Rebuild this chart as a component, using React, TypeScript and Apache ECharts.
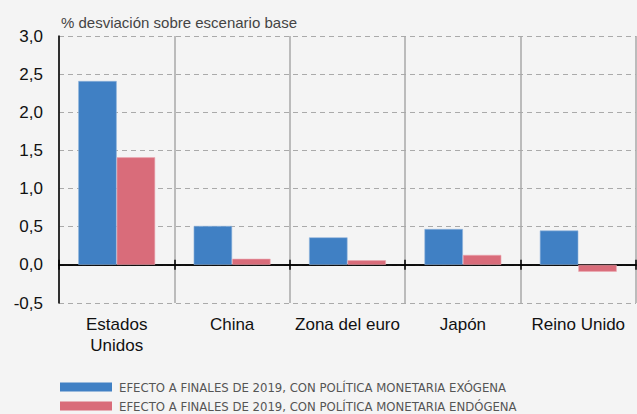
import React, { useEffect, useRef } from "react";
import * as echarts from "echarts";

const categories = ["Estados\nUnidos", "China", "Zona del euro", "Japón", "Reino Unido"];
const exogena = [2.41, 0.51, 0.36, 0.47, 0.45];
const endogena = [1.41, 0.08, 0.06, 0.13, -0.09];
const seriesNames = [
  "EFECTO A FINALES DE 2019, CON POLÍTICA MONETARIA EXÓGENA",
  "EFECTO A FINALES DE 2019, CON POLÍTICA MONETARIA ENDÓGENA",
];
const yTitle = "% desviación sobre escenario base";

const FONT = "'Liberation Sans', Arial, Helvetica, sans-serif";
const NARROW = "'Liberation Sans Narrow', 'DejaVu Sans Condensed', 'Liberation Sans', sans-serif";

export default function App() {
  const ref = useRef<HTMLDivElement>(null);
  useEffect(() => {
    if (!ref.current) return;
    const chart = echarts.init(ref.current, null, { renderer: "svg" });
    const gridRect = { left: 59, right: 1, top: 36, bottom: 111 };
    chart.setOption({
      animation: false,
      backgroundColor: "#f4f4f4",
      textStyle: { fontFamily: FONT },
      title: {
        text: yTitle,
        left: 56,
        top: 10,
        textStyle: { fontSize: 15, fontWeight: "normal", color: "#444", fontFamily: FONT },
      },
      legend: {
        orient: "vertical",
        left: 60,
        top: 379,
        height: 60,
        padding: 0,
        itemWidth: 52,
        itemHeight: 9,
        itemGap: 3,
        icon: "rect",
        itemStyle: { borderWidth: 0 },
        textStyle: {
          fontSize: 13,
          lineHeight: 16,
          color: "#555",
          fontFamily: NARROW,
          padding: [0, 0, 0, 2],
        },
        data: seriesNames,
      },
      grid: [
        { ...gridRect, containLabel: false },
        { ...gridRect, containLabel: false },
      ],
      xAxis: [
        {
          type: "category",
          gridIndex: 0,
          data: categories,
          position: "bottom",
          axisLine: { show: false, onZero: false },
          axisTick: { show: false },
          axisLabel: {
            fontSize: 17,
            color: "#111",
            lineHeight: 21,
            margin: 11,
            interval: 0,
            fontFamily: FONT,
          },
          splitLine: { show: true, interval: 0, lineStyle: { color: "#a8a8a8", width: 1.5, type: "solid" } },
        },
        {
          type: "category",
          gridIndex: 0,
          data: categories,
          position: "top",
          axisLine: { show: true, onZero: true, lineStyle: { color: "#000", width: 1.5 } },
          axisTick: { show: true, length: 5, interval: 0, lineStyle: { color: "#000", width: 1.5 } },
          axisLabel: { show: false },
          splitLine: { show: false },
        },
        {
          type: "category",
          gridIndex: 1,
          data: categories,
          position: "bottom",
          axisLine: { show: true, onZero: true, lineStyle: { color: "#000", width: 1.5 } },
          axisTick: { show: true, length: 5, interval: 0, lineStyle: { color: "#000", width: 1.5 } },
          axisLabel: { show: false },
          splitLine: { show: false },
        },
      ],
      yAxis: [
        {
          type: "value",
          gridIndex: 0,
          min: -0.5,
          max: 3,
          interval: 0.5,
          axisLine: { show: true, onZero: false, lineStyle: { color: "#000", width: 1.5 } },
          axisTick: { show: false },
          axisLabel: {
            fontSize: 17,
            color: "#111",
            margin: 16,
            fontFamily: FONT,
            formatter: (v: number) => v.toFixed(1).replace(".", ","),
          },
          splitLine: { show: true, lineStyle: { color: "#aaa", type: [5, 4], width: 1 } },
        },
        {
          type: "value",
          gridIndex: 1,
          min: -0.5,
          max: 3,
          interval: 0.5,
          show: false,
        },
      ],
      series: [
        {
          name: seriesNames[0],
          type: "bar",
          xAxisIndex: 0,
          yAxisIndex: 0,
          data: exogena,
          barWidth: "33.3%",
          barGap: "0%",
          itemStyle: { color: "#4080c4", borderColor: "#8fb4dc", borderWidth: 0.6 },
        },
        {
          name: seriesNames[1],
          type: "bar",
          xAxisIndex: 0,
          yAxisIndex: 0,
          data: endogena,
          barWidth: "33.3%",
          barGap: "0%",
          itemStyle: { color: "#d96c7a", borderColor: "#eca9b2", borderWidth: 0.6 },
        },
      ],
    });
    return () => chart.dispose();
  }, []);
  return <div ref={ref} style={{ width: 637, height: 414, position: "fixed", left: 0, top: 0 }} />;
}
